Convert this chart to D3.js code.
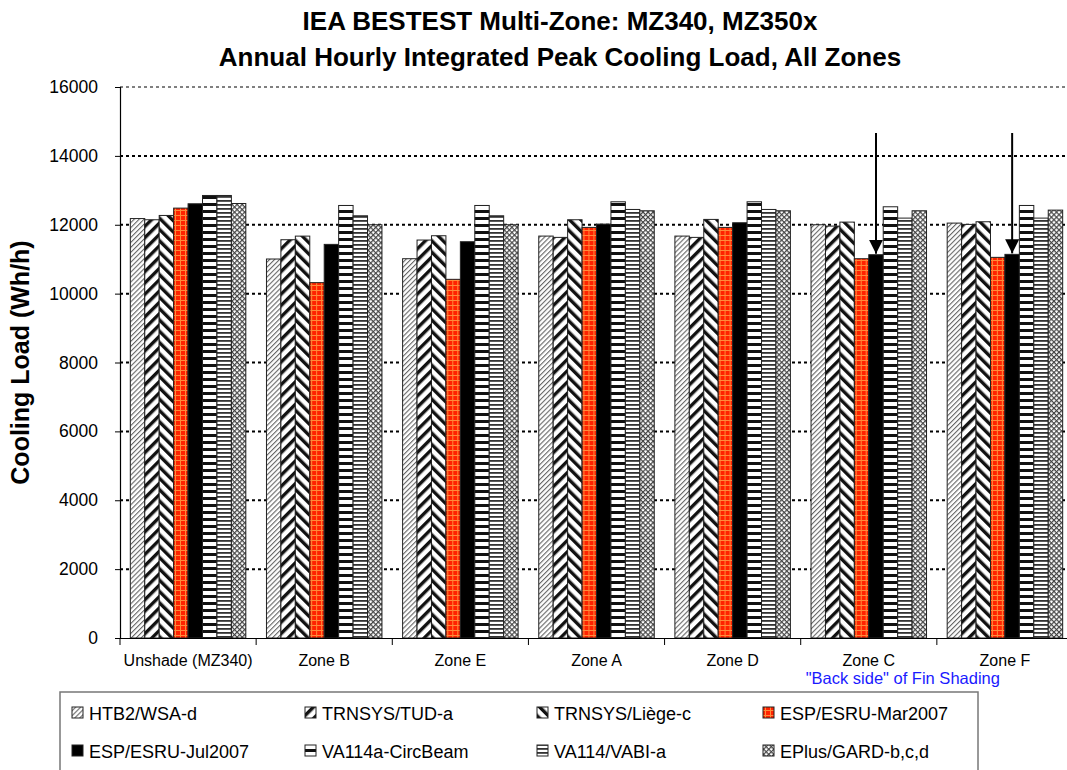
<!DOCTYPE html>
<html><head><meta charset="utf-8">
<script src="https://cdn.jsdelivr.net/npm/d3@7"></script>
<style>
html,body{margin:0;padding:0;background:#fff;}
svg{display:block;font-family:"Liberation Sans",Arial,sans-serif;}
</style></head>
<body><svg id="chart" width="1067" height="770"></svg>
<script>
const categories = ["Unshade (MZ340)","Zone B","Zone E","Zone A","Zone D","Zone C","Zone F"];
const seriesNames = ["HTB2/WSA-d","TRNSYS/TUD-a","TRNSYS/Liège-c","ESP/ESRU-Mar2007","ESP/ESRU-Jul2007","VA114a-CircBeam","VA114/VABI-a","EPlus/GARD-b,c,d"];
const htb2    = [12180, 11005, 11014, 11671, 11671, 12000, 12048];
const tud     = [12145, 11565, 11556, 11633, 11633, 11961, 12010];
const liege   = [12270, 11670, 11681, 12145, 12155, 12077, 12087];
const espMar  = [12483, 10319, 10415, 11923, 11923, 11014, 11053];
const espJul  = [12609, 11430, 11507, 12019, 12058, 11130, 11140];
const va114a  = [12850, 12560, 12560, 12667, 12667, 12522, 12560];
const vabi    = [12850, 12261, 12261, 12444, 12444, 12193, 12193];
const eplus   = [12617, 12000, 12000, 12406, 12406, 12406, 12425];
const seriesValues = [htb2, tud, liege, espMar, espJul, va114a, vabi, eplus];
const yTicks = [0,2000,4000,6000,8000,10000,12000,14000,16000];
const arrowCats = ["Zone C","Zone F"];
const arrowSeries = "ESP/ESRU-Jul2007";
const noteText = "\"Back side\" of Fin Shading";

const svg = d3.select("#chart");
const defs = svg.append("defs");

function pat(id, w, h, build, transform){
  const p = defs.append("pattern").attr("id", id).attr("patternUnits","userSpaceOnUse")
    .attr("width", w).attr("height", h);
  if (transform) p.attr("patternTransform", transform);
  build(p);
}
// HTB2: fine gray diagonal
pat("p0", 3.5, 3.5, p => {
  p.append("rect").attr("width",3.5).attr("height",3.5).attr("fill","#fff");
  p.append("rect").attr("x",0).attr("y",0).attr("width",1.1).attr("height",3.5).attr("fill","#666");
}, "rotate(45)");
// TUD: wide "/" stripes
pat("p1", 8, 8, p => {
  p.append("rect").attr("width",8).attr("height",8).attr("fill","#fff");
  p.append("rect").attr("x",0).attr("y",0).attr("width",3.4).attr("height",8).attr("fill","#111");
}, "rotate(45)");
// Liège: wide "\" stripes
pat("p2", 8, 8, p => {
  p.append("rect").attr("width",8).attr("height",8).attr("fill","#fff");
  p.append("rect").attr("x",0).attr("y",0).attr("width",3.4).attr("height",8).attr("fill","#111");
}, "rotate(-45)");
// ESP Mar: red with orange grid
pat("p3", 5, 5, p => {
  p.append("rect").attr("width",5).attr("height",5).attr("fill","#ff2200");
  p.append("rect").attr("x",0).attr("y",0).attr("width",1).attr("height",5).attr("fill","#ff8a3a");
  p.append("rect").attr("x",0).attr("y",0).attr("width",5).attr("height",1).attr("fill","#ff8a3a");
});
// ESP Jul: black
pat("p4", 4, 4, p => {
  p.append("rect").attr("width",4).attr("height",4).attr("fill","#000");
});
// VA114a: wide horizontal stripes
pat("p5", 7, 7, p => {
  p.append("rect").attr("width",7).attr("height",7).attr("fill","#fff");
  p.append("rect").attr("x",0).attr("y",0).attr("width",7).attr("height",3).attr("fill","#111");
});
// VABI: narrow horizontal stripes
pat("p6", 4, 4, p => {
  p.append("rect").attr("width",4).attr("height",4).attr("fill","#fff");
  p.append("rect").attr("x",0).attr("y",0).attr("width",4).attr("height",1.8).attr("fill","#333");
});
// EPlus: fine crosshatch
pat("p7", 3.6, 3.6, p => {
  p.append("rect").attr("width",3.6).attr("height",3.6).attr("fill","#fff");
  p.append("rect").attr("x",0).attr("y",0).attr("width",1.2).attr("height",3.6).attr("fill","#444");
  p.append("rect").attr("x",0).attr("y",0).attr("width",3.6).attr("height",1.2).attr("fill","#444");
}, "rotate(45)");

defs.append("marker").attr("id","arrowhead").attr("viewBox","0 0 10 10").attr("refX",10).attr("refY",5)
  .attr("markerWidth",14).attr("markerHeight",14).attr("markerUnits","userSpaceOnUse").attr("orient","auto")
  .append("path").attr("d","M0,0 L10,5 L0,10 Z").attr("fill","#000");

const plot = {left:120, right:1073, top:87, bottom:638};
const x0 = d3.scaleBand().domain(categories).range([plot.left, plot.right]).paddingInner(0).paddingOuter(0);
const x1 = d3.scaleBand().domain(seriesNames).range([0, x0.bandwidth()]).paddingInner(0).paddingOuter(0.715);
const y = d3.scaleLinear().domain([0,16000]).range([plot.bottom, plot.top]);

// gridlines
svg.append("g").selectAll("line").data(yTicks.filter(d=>d>0)).join("line")
  .attr("x1", plot.left).attr("x2", plot.right)
  .attr("y1", d=>y(d)).attr("y2", d=>y(d))
  .attr("stroke","#000").attr("stroke-width", d=> d===16000 ? 1 : 2)
  .attr("stroke-dasharray", "3,3");

// bars
const groups = svg.append("g").selectAll("g").data(categories).join("g")
  .attr("transform", c => `translate(${x0(c)},0)`);
groups.selectAll("rect").data((c,ci) => seriesNames.map((s,si)=>({s, si, v: seriesValues[si][ci]}))).join("rect")
  .attr("x", d => x1(d.s)).attr("width", x1.bandwidth())
  .attr("y", d => y(d.v)).attr("height", d => y(0)-y(d.v))
  .attr("fill", d => `url(#p${d.si})`)
  .attr("stroke", "#222").attr("stroke-width", 1);

// axes
const yAxis = d3.axisLeft(y).tickValues(yTicks).tickSize(5).tickPadding(17).tickFormat(d3.format("d"));
const gy = svg.append("g").attr("transform",`translate(${plot.left},0)`).call(yAxis);
gy.select(".domain").attr("stroke","#000").attr("stroke-width",1.2);
gy.selectAll("text").attr("font-size",17.5).attr("fill","#000").attr("font-family","Liberation Sans, Arial, sans-serif");

const xAxis = d3.axisBottom(x0).tickSize(0).tickPadding(17);
const gx = svg.append("g").attr("transform",`translate(0,${plot.bottom})`).call(xAxis);
gx.select(".domain").attr("stroke","#000").attr("stroke-width",1.2);
gx.selectAll("text").attr("font-size",16).attr("fill","#000").attr("font-family","Liberation Sans, Arial, sans-serif");
// boundary ticks
svg.append("g").selectAll("line").data(categories).join("line")
  .attr("x1", c=>x0(c)).attr("x2", c=>x0(c))
  .attr("y1", plot.bottom).attr("y2", plot.bottom+7).attr("stroke","#000").attr("stroke-width",1);

// note
svg.append("text").attr("x", x0("Zone C")+x0.bandwidth()*0.75).attr("y", 684)
  .attr("text-anchor","middle").attr("font-size",16.5).attr("fill","#1a1aff").text(noteText);

// arrows
arrowCats.forEach(c => {
  const ci = categories.indexOf(c), si = seriesNames.indexOf(arrowSeries);
  const cx = x0(c) + x1(arrowSeries) + x1.bandwidth()/2;
  svg.append("line").attr("x1", cx).attr("x2", cx).attr("y1", 133).attr("y2", y(seriesValues[si][ci]) - 1)
    .attr("stroke","#000").attr("stroke-width",2).attr("marker-end","url(#arrowhead)");
});

// titles
svg.append("text").attr("x",560).attr("y",30).attr("text-anchor","middle").attr("font-size",26).attr("font-weight","bold")
  .text("IEA BESTEST Multi-Zone: MZ340, MZ350x");
svg.append("text").attr("x",560).attr("y",66).attr("text-anchor","middle").attr("font-size",26).attr("font-weight","bold")
  .text("Annual Hourly Integrated Peak Cooling Load, All Zones");
svg.append("text").attr("transform",`translate(29,${(plot.top+plot.bottom)/2}) rotate(-90)`)
  .attr("text-anchor","middle").attr("font-size",25).attr("font-weight","bold").text("Cooling Load (Wh/h)");

// legend
const leg = svg.append("g");
leg.append("rect").attr("x",60).attr("y",692).attr("width",918).attr("height",100)
  .attr("fill","#fff").attr("stroke","#777").attr("stroke-width",1.5);
const colX = [72, 305, 537, 763], rowY = [713, 751];
seriesNames.forEach((s,i) => {
  const cx = colX[i%4], cy = rowY[Math.floor(i/4)];
  leg.append("rect").attr("x",cx).attr("y",cy-6).attr("width",11).attr("height",11)
    .attr("fill",`url(#p${i})`).attr("stroke","#222").attr("stroke-width",1);
  leg.append("text").attr("x",cx+17).attr("y",cy+7).attr("font-size",18).attr("fill","#000").text(s);
});
</script></body></html>
